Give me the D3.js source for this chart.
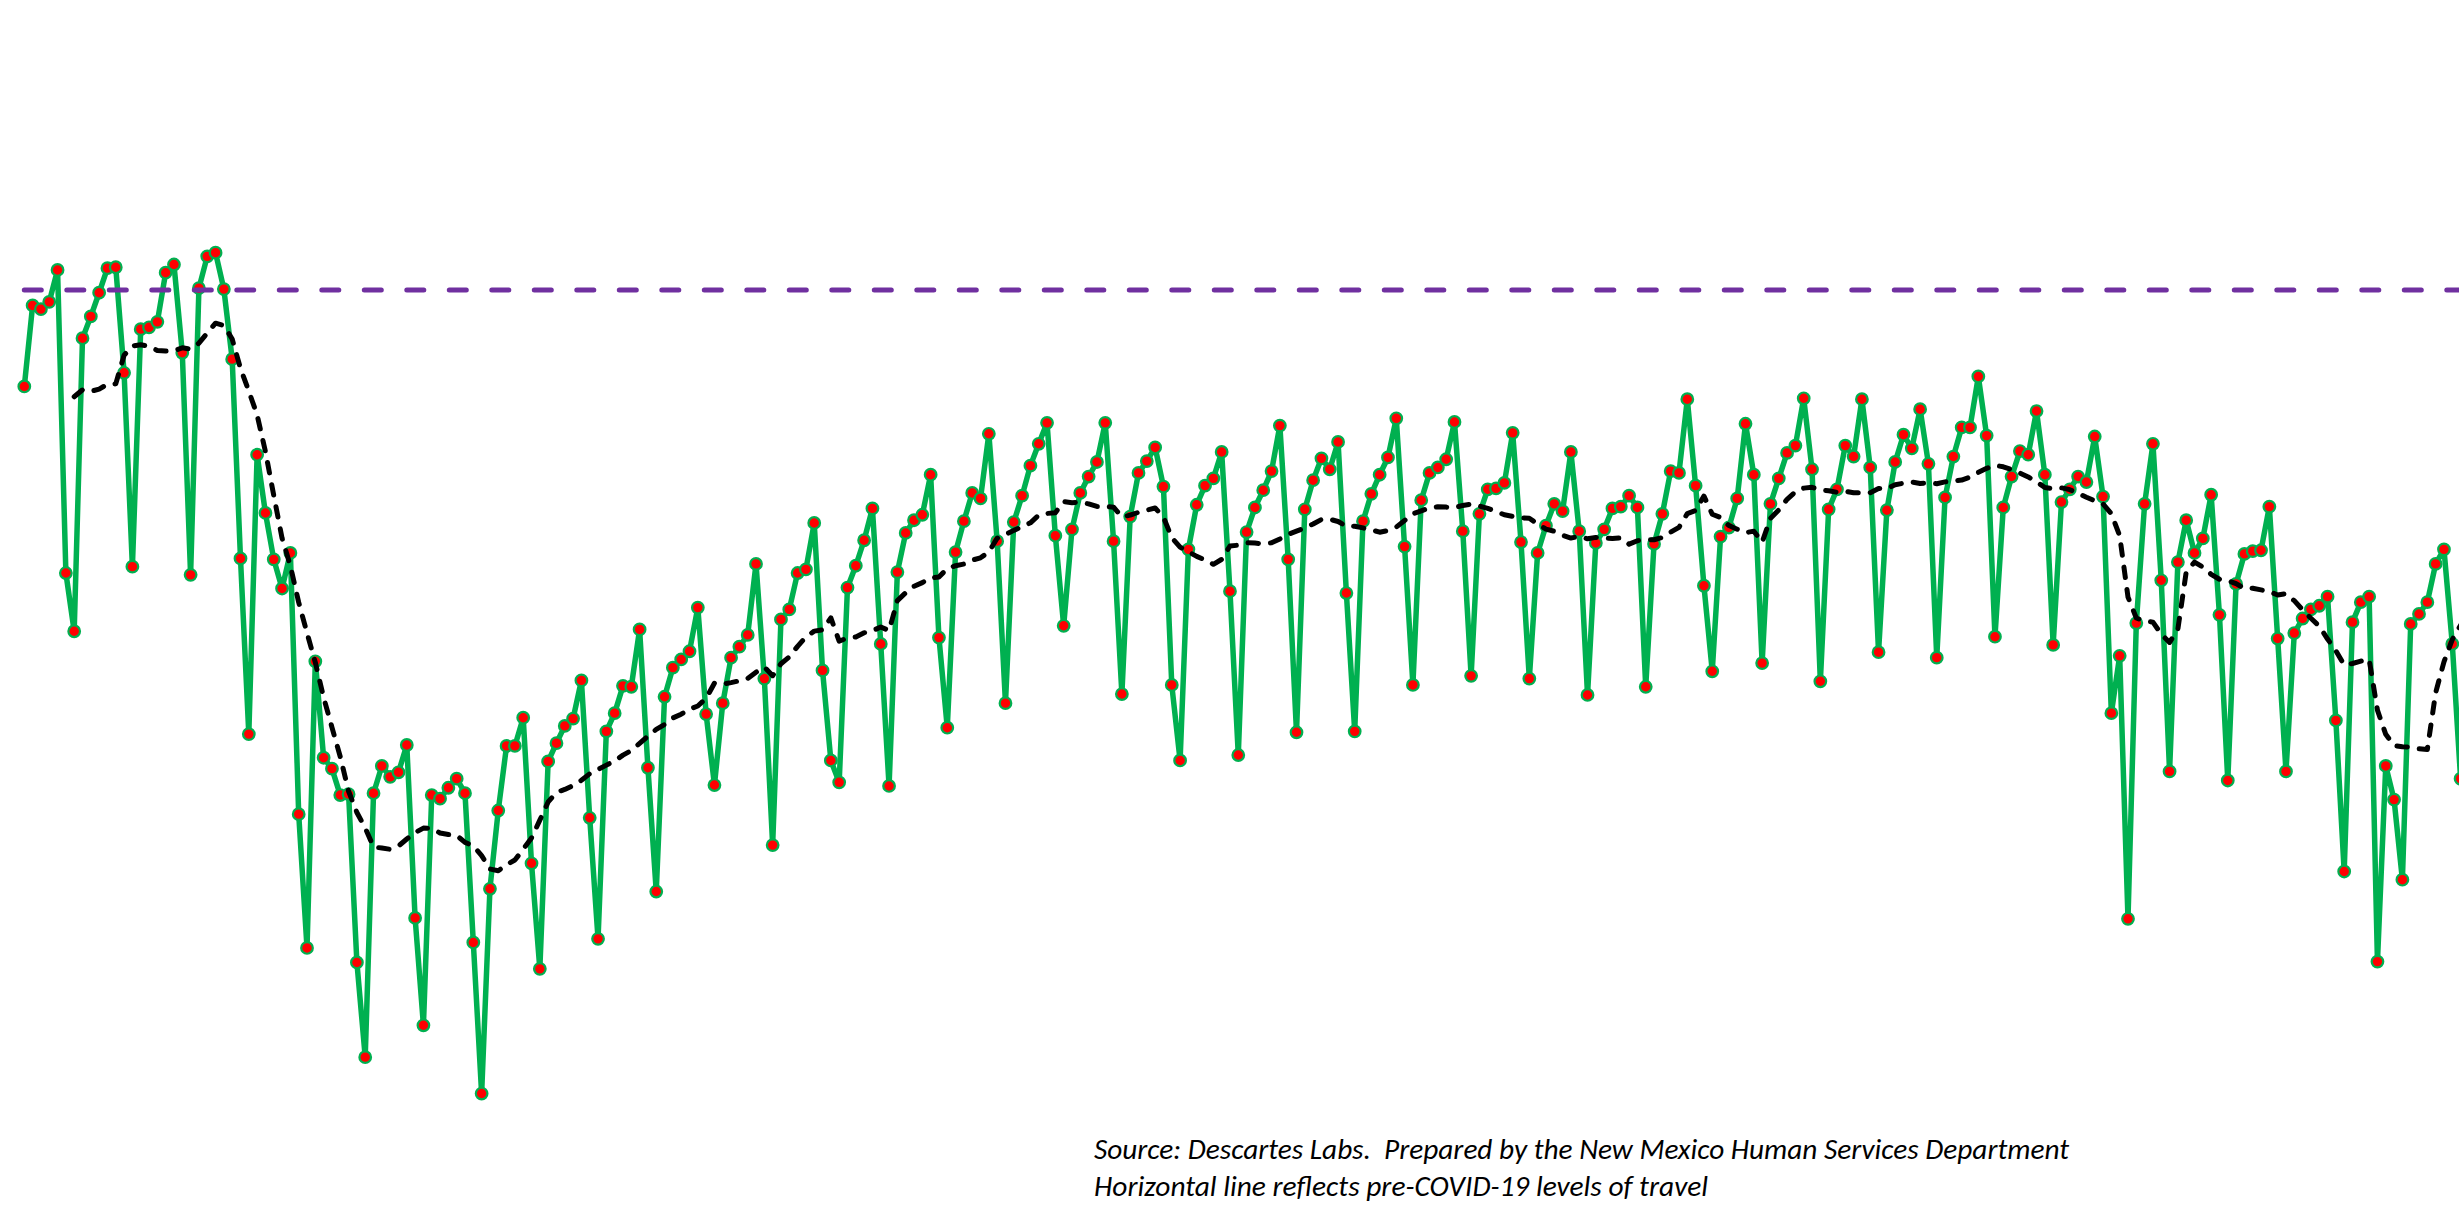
<!DOCTYPE html>
<html><head><meta charset="utf-8">
<script src="https://cdn.jsdelivr.net/npm/d3@7"></script>
<style>html,body{margin:0;padding:0;background:#fff;overflow:hidden}</style>
</head><body>
<script>
// ---- data ----
const startDate = "2020-02-17";   // first daily observation (Monday)
const travelIndex = [
 89.4, 98.3, 97.9, 98.7,102.2, 68.9, 62.5,
 94.7, 97.1, 99.7,102.4,102.5, 90.9, 69.6,
 95.7, 95.9, 96.5,101.9,102.8, 93.1, 68.7,
100.2,103.7,104.1,100.1, 92.4, 70.5, 51.2,
 81.9, 75.5, 70.4, 67.2, 71.1, 42.4, 27.7,
 59.2, 48.6, 47.4, 44.5, 44.6, 26.1, 15.7,
 44.7, 47.7, 46.5, 47.0, 50.0, 31.0, 19.2,
 44.5, 44.1, 45.3, 46.3, 44.7, 28.3, 11.7,
 34.2, 42.8, 49.9, 49.9, 53.0, 37.0, 25.4,
 48.2, 50.2, 52.1, 52.9, 57.1, 42.0, 28.7,
 51.5, 53.5, 56.5, 56.4, 62.7, 47.5, 33.9,
 55.3, 58.5, 59.4, 60.3, 65.1, 53.4, 45.6,
 54.6, 59.6, 60.8, 62.1, 69.9, 57.3, 39.0,
 63.8, 64.9, 68.9, 69.3, 74.4, 58.2, 48.3,
 45.9, 67.3, 69.7, 72.5, 76.0, 61.1, 45.5,
 69.0, 73.3, 74.7, 75.3, 79.7, 61.8, 51.9,
 71.2, 74.6, 77.7, 77.1, 84.2, 72.4, 54.6,
 74.5, 77.4, 80.7, 83.1, 85.4, 73.0, 63.1,
 73.7, 77.7, 79.5, 81.1, 85.4, 72.4, 55.6,
 75.1, 79.9, 81.2, 82.7, 78.4, 56.6, 48.3,
 71.5, 76.4, 78.5, 79.3, 82.2, 66.9, 48.9,
 73.4, 76.1, 78.0, 80.1, 85.1, 70.4, 51.4,
 75.9, 79.1, 81.5, 80.3, 83.3, 66.7, 51.5,
 74.6, 77.6, 79.7, 81.6, 85.9, 71.8, 56.6,
 76.9, 79.9, 80.5, 81.4, 85.5, 73.5, 57.6,
 75.4, 78.1, 78.2, 78.8, 84.3, 72.3, 57.3,
 71.1, 74.1, 76.5, 75.7, 82.2, 73.5, 55.5,
 72.2, 73.7, 76.0, 76.2, 77.4, 76.1, 56.4,
 72.1, 75.4, 80.1, 79.9, 88.0, 78.5, 67.5,
 58.1, 72.9, 73.9, 77.1, 85.3, 79.7, 59.0,
 76.5, 79.3, 82.1, 82.9, 88.1, 80.3, 57.0,
 75.9, 78.1, 82.9, 81.7, 88.0, 80.5, 60.2,
 75.8, 81.1, 84.1, 82.6, 86.9, 80.9, 59.6,
 77.2, 81.7, 84.9, 84.9, 90.5, 84.0, 61.9,
 76.1, 79.5, 82.3, 81.9, 86.7, 79.7, 61.0,
 76.7, 78.1, 79.5, 78.9, 83.9, 77.3, 53.5,
 59.8, 30.9, 63.4, 76.5, 83.1, 68.1, 47.1,
 70.1, 74.7, 71.1, 72.7, 77.5, 64.3, 46.1,
 67.7, 71.0, 71.3, 71.4, 76.2, 61.7, 47.1,
 62.3, 63.9, 64.9, 65.3, 66.3, 52.7, 36.1,
 63.5, 65.7, 66.3, 26.2, 47.7, 44.0, 35.2,
 63.3, 64.4, 65.7, 69.9, 71.5, 61.1, 46.3
];
const baselineLevel = 100;        // pre-COVID-19 level of travel
const movingAveragePeriod = 7;
const noteLines = [
  "Source: Descartes Labs.  Prepared by the New Mexico Human Services Department",
  "Horizontal line reflects pre-COVID-19 levels of travel"
];

// ---- layout ----
const W = 2459, H = 1225;
const svg = d3.select("body").append("svg")
  .attr("width", W).attr("height", H)
  .style("display","block").style("background","#fff");

const t0 = d3.timeParse("%Y-%m-%d")(startDate);
const rows = travelIndex.map((v,i)=>({date: d3.timeDay.offset(t0,i), value: v}));
const n = rows.length;

const x = d3.scaleTime()
  .domain([rows[0].date, rows[n-1].date])
  .range([24.3, 24.3 + 8.315*(n-1)]);
const y = d3.scaleLinear().domain([0, 100]).range([1200, 290]);

// moving-average trendline (trailing 7-day)
const ma = rows.map((d,i)=> i < movingAveragePeriod-1 ? null :
  ({date: d.date, value: d3.mean(rows.slice(i-movingAveragePeriod+1, i+1), r=>r.value)}))
  .filter(d=>d);

const line = d3.line().x(d=>x(d.date)).y(d=>y(d.value));

// main series
svg.append("path").datum(rows)
  .attr("d", line)
  .attr("fill","none").attr("stroke","#00B050").attr("stroke-width",5.5)
  .attr("stroke-linejoin","round");

svg.append("g").selectAll("circle").data(rows).join("circle")
  .attr("cx", d=>x(d.date)).attr("cy", d=>y(d.value))
  .attr("r", 5.8).attr("fill","#FF0000")
  .attr("stroke","#00B050").attr("stroke-width",2.2);

// baseline series
svg.append("path").datum(rows.map(d=>({date:d.date, value: baselineLevel})))
  .attr("d", line)
  .attr("fill","none").attr("stroke","#7030A0").attr("stroke-width",5)
  .attr("stroke-linecap","round").attr("stroke-dasharray","17 25.5");

// trendline
svg.append("path").datum(ma)
  .attr("d", line)
  .attr("fill","none").attr("stroke","#000").attr("stroke-width",5)
  .attr("stroke-linecap","round").attr("stroke-linejoin","round")
  .attr("stroke-dasharray","10.5 12");

// notes
const notes = svg.append("g")
  .attr("font-family","Carlito, Calibri, Lato, 'Open Sans', sans-serif")
  .attr("font-style","italic").attr("font-size",28).attr("fill","#000");
const noteWidths = [975, 614];
notes.selectAll("text").data(noteLines).join("text")
  .attr("x", 1094).attr("y", (d,i)=> 1159 + i*37)
  .style("white-space","pre")
  .attr("textLength", (d,i)=>noteWidths[i])
  .attr("lengthAdjust","spacingAndGlyphs")
  .text(d=>d);
</script>
</body></html>
